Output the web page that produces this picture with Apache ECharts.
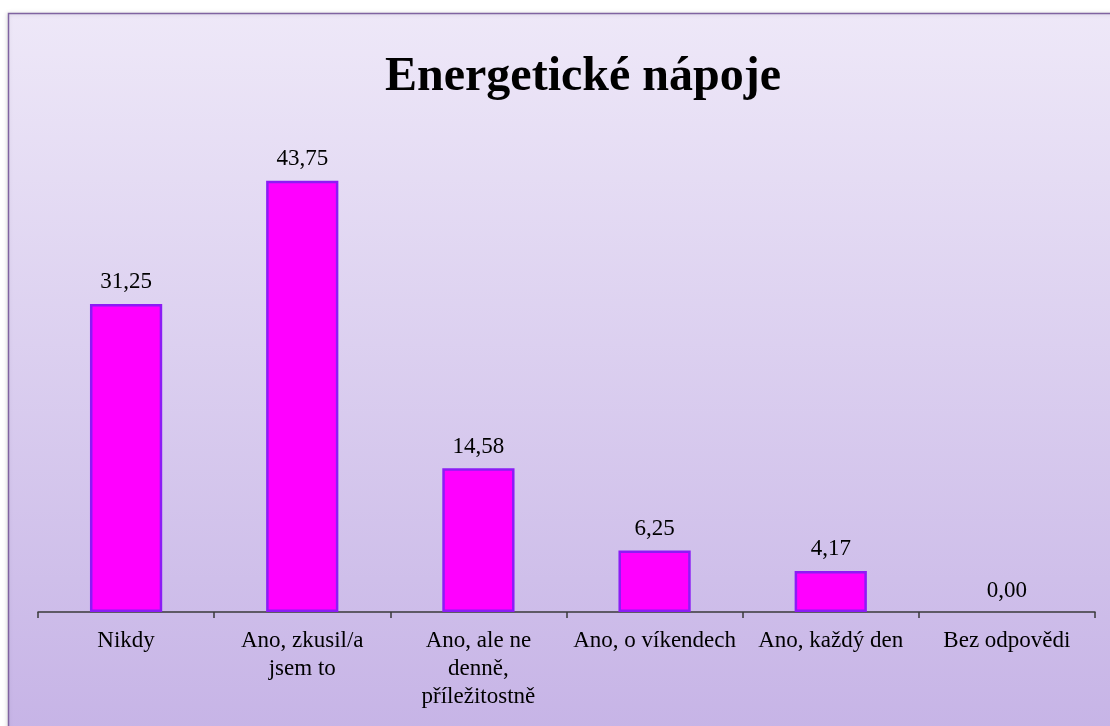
<!DOCTYPE html>
<html>
<head>
<meta charset="utf-8">
<title>Energetické nápoje</title>
<script src="https://cdn.jsdelivr.net/npm/echarts@6/dist/echarts.min.js"></script>
<style>
  html, body { margin: 0; padding: 0; background: #fff; }
  #chart { width: 1110px; height: 726px; }
</style>
</head>
<body>
<div id="chart"></div>
<script>
// data
const categories = [
  'Nikdy',
  'Ano, zkusil/a\njsem to',
  'Ano, ale ne\ndenně,\npříležitostně',
  'Ano, o víkendech',
  'Ano, každý den',
  'Bez odpovědi'
]
const values = [31.25, 43.75, 14.58, 6.25, 4.17, 0.00]

const serif = '"Liberation Serif", "Times New Roman", serif'

const chart = echarts.init(document.getElementById('chart'))
const option = {
  animation: false,
  graphic: [{
    type: 'rect',
    z: -10,
    shape: { x: 8.5, y: 13.5, width: 1120, height: 730 },
    style: {
      fill: new echarts.graphic.LinearGradient(0, 0, 0, 1, [
        { offset: 0, color: '#eee8f8' },
        { offset: 1, color: '#c6b3e6' }
      ]),
      stroke: '#7f63a1',
      lineWidth: 1.5,
      shadowBlur: 4,
      shadowColor: 'rgba(0,0,0,0.15)',
      shadowOffsetX: -1
    }
  }],
  title: {
    text: 'Energetické nápoje',
    left: 578,
    textAlign: 'center',
    top: 49,
    textStyle: {
      fontFamily: serif,
      fontSize: 48,
      fontWeight: 'bold',
      color: '#000'
    }
  },
  grid: { left: 38, right: 15, top: 119, bottom: 114 },
  xAxis: {
    type: 'category',
    data: categories,
    axisLine: { show: true, lineStyle: { color: '#3a3a3a', width: 1.5 } },
    axisTick: { show: true, inside: false, length: 6, lineStyle: { color: '#3a3a3a', width: 1.5 } },
    axisLabel: {
      interval: 0,
      margin: 15,
      color: '#000',
      fontFamily: serif,
      fontSize: 23,
      lineHeight: 28
    }
  },
  yAxis: {
    type: 'value',
    min: 0,
    max: 50,
    show: false
  },
  series: [{
    type: 'bar',
    barWidth: '41%',
    data: values.map(v => ({
      value: v,
      itemStyle: v === 0 ? { borderWidth: 0 } : {}
    })),
    itemStyle: {
      color: '#ff00ff',
      borderColor: '#8c1cf5',
      borderWidth: 2.5
    },
    label: {
      show: true,
      position: 'top',
      distance: 10,
      color: '#000',
      fontFamily: serif,
      fontSize: 23,
      formatter: p => p.value.toFixed(2).replace('.', ',')
    }
  }]
}
chart.setOption(option)
</script>
</body>
</html>
